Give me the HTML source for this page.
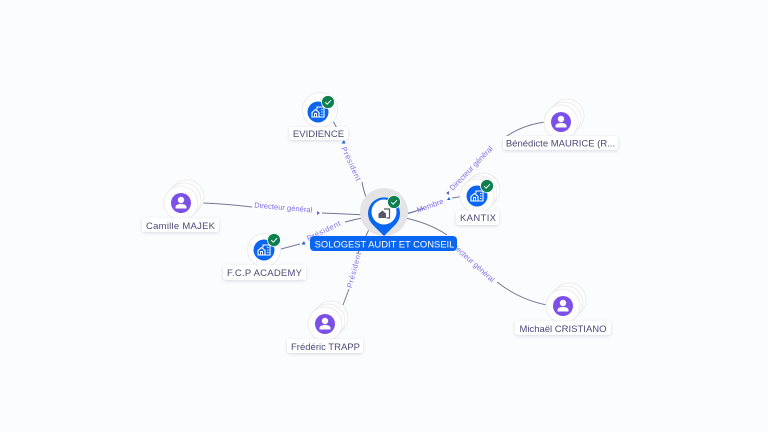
<!DOCTYPE html>
<html><head><meta charset="utf-8">
<style>
html,body{margin:0;padding:0;background:#fbfcfe}
svg{display:block;filter:blur(.25px)}
text{font-family:"Liberation Sans",sans-serif}
.l{font-size:9.5px;fill:#4a4a78;text-anchor:middle}
.e{font-size:7.6px;fill:#7d70e6;text-anchor:middle}
.pr{font-size:7.6px;fill:#7d70e6;text-anchor:middle;letter-spacing:.55px}
.p{fill:none;stroke:#75779a;stroke-width:1}
.b{fill:#fff;filter:url(#s);rx:3px}
.w{fill:#fff;stroke:#ececec;stroke-width:1}
</style></head>
<body>
<svg width="768" height="432" viewBox="0 0 768 432" xmlns="http://www.w3.org/2000/svg">
<defs>
<filter id="s" x="-20%" y="-40%" width="140%" height="200%"><feDropShadow dx="0" dy="1" stdDeviation="1.5" flood-color="#8088a8" flood-opacity=".3"/></filter>
<g id="person"><circle r="10" fill="#7b4fe8"/><circle cy="-3" r="3.2" fill="#fff"/><path d="M-5.5 5.5v-1.5c0-2 2.5-3 5.500-3s5.500 1 5.500 3v1.500z" fill="#fff"/></g>
<g id="co"><circle r="10.500" fill="#0a66f0"/><path d="M-1-2.500V-5H6V5H-6V.5L-2.500-2.500L1 .5V5" fill="none" stroke="#fff" stroke-width="1.100"/><path d="M-3.500 5V1.500h2V5M3-2.500h1.500M3 0h1.500M3 2.500h1.500" fill="none" stroke="#fff" stroke-width=".9"/></g>
<g id="ck"><circle r="6.500" fill="#0d8050" stroke="#fff" stroke-width=".8"/><path d="M-2.800 .2l2 2 3.800-4" fill="none" stroke="#fff" stroke-width="1"/></g>
<g id="stack"><circle cx="6" cy="-6" r="17" class="w"/><circle cx="3" cy="-3" r="17" class="w"/><circle r="17" class="w"/></g>
</defs>
<rect width="768" height="432" fill="#fbfcfe"/>

<!-- edges -->
<path class="p" d="M333 121L338 130"/>
<path class="p" d="M362 182Q364 194 369 204"/>
<path class="p" d="M545 122Q522 125 504 138"/>
<path class="p" d="M400 215Q412 213 424 208"/>
<path class="p" d="M462 196.500L452 198"/>
<path class="p" d="M400 215Q408 214 416 211"/>
<path class="p" d="M203 203Q228 204 252 207"/>
<path class="p" d="M322 213L368 215"/>
<path class="p" d="M281 249L300 244"/>
<path class="p" d="M345 222Q356 219 368 217"/>
<path class="p" d="M343 305L349 289"/>
<path class="p" d="M358 253L371 225"/>
<path class="p" d="M547 305Q520 300 497 282"/>
<path class="p" d="M400 217Q428 222 447 235"/>

<!-- edge labels -->
<text class="pr" transform="translate(349 165) rotate(65)">Président</text>
<text class="e" transform="translate(473 170) rotate(-46)">Directeur général</text>
<text class="e" transform="translate(431 208) rotate(-20)">Membre</text>
<text class="e" transform="translate(283 210) rotate(5)">Directeur général</text>
<text class="pr" transform="translate(325 233) rotate(-26)">Président</text>
<text class="pr" transform="translate(356.500 270.500) rotate(-75)">Président</text>
<text class="e" transform="translate(470 263) rotate(42)">Directeur général</text>

<!-- arrowheads -->
<path d="M344 140l-2.500 3.500h4z" fill="#1f5fd0"/>
<path d="M446 193l3-2v4z" fill="#6a5fd8"/>
<path d="M449 197l-2 3h3.500z" fill="#1f5fd0"/>
<path d="M320 213l-3-2v4z" fill="#6a5fd8"/>
<path d="M304 241l-2.500 3.500h4z" fill="#1f5fd0"/>

<!-- nodes -->
<use href="#stack" x="561" y="122"/><use href="#person" x="561" y="122"/>
<use href="#stack" x="181" y="203"/><use href="#person" x="181" y="203"/>
<use href="#stack" x="325" y="324"/><use href="#person" x="325" y="324"/>
<use href="#stack" x="563" y="306"/><use href="#person" x="563" y="306"/>

<circle cx="320" cy="110" r="17.500" class="w"/><use href="#co" x="318" y="112"/><use href="#ck" x="328" y="102"/>
<circle cx="264" cy="250" r="16.500" class="w"/><use href="#co" x="264" y="250"/><use href="#ck" x="274" y="240"/>
<circle cx="483" cy="190" r="17" class="w"/><circle cx="480" cy="193" r="17" class="w"/><circle cx="477" cy="196" r="17" class="w"/><use href="#co" x="477" y="196"/><use href="#ck" x="487" y="186"/>

<!-- centre -->
<circle cx="384" cy="212" r="24" fill="#e4e4e6"/>
<path d="M384 236L373 225A16 16 0 1 1 395 225Z" fill="#0a66f0"/>
<circle cx="384" cy="212" r="12.500" fill="#fff"/>
<path d="M378.500 218v-4.500l4-3 3.500 3v4.500z" fill="#55586a"/>
<path d="M384 209h5.500v9h-3" fill="none" stroke="#55586a" stroke-width="1.200"/>
<use href="#ck" x="394" y="202"/>

<!-- labels -->
<rect x="310" y="236" width="147" height="15" rx="4" fill="#0a66f0"/>
<text x="384.500" y="247.500" text-anchor="middle" font-size="9.400" fill="#fff">SOLOGEST AUDIT ET CONSEIL</text>

<rect class="b" x="289" y="127" width="59" height="13"/><text class="l" x="318.500" y="137">EVIDIENCE</text>
<rect class="b" x="503" y="136" width="115" height="14"/><text class="l" x="560.500" y="146.500">Bénédicte MAURICE (R...</text>
<rect class="b" x="456" y="211" width="43" height="14"/><text class="l" x="478" y="221" textLength="36">KANTIX</text>
<rect class="b" x="142" y="218" width="77" height="14"/><text class="l" x="180.500" y="229" textLength="69">Camille MAJEK</text>
<rect class="b" x="223" y="265" width="83" height="15"/><text class="l" x="264.500" y="276" textLength="75">F.C.P ACADEMY</text>
<rect class="b" x="287" y="339" width="76" height="14"/><text class="l" x="325.500" y="350">Frédéric TRAPP</text>
<rect class="b" x="515" y="321" width="96" height="14"/><text class="l" x="563" y="332">Michaël CRISTIANO</text>
</svg>
</body></html>
